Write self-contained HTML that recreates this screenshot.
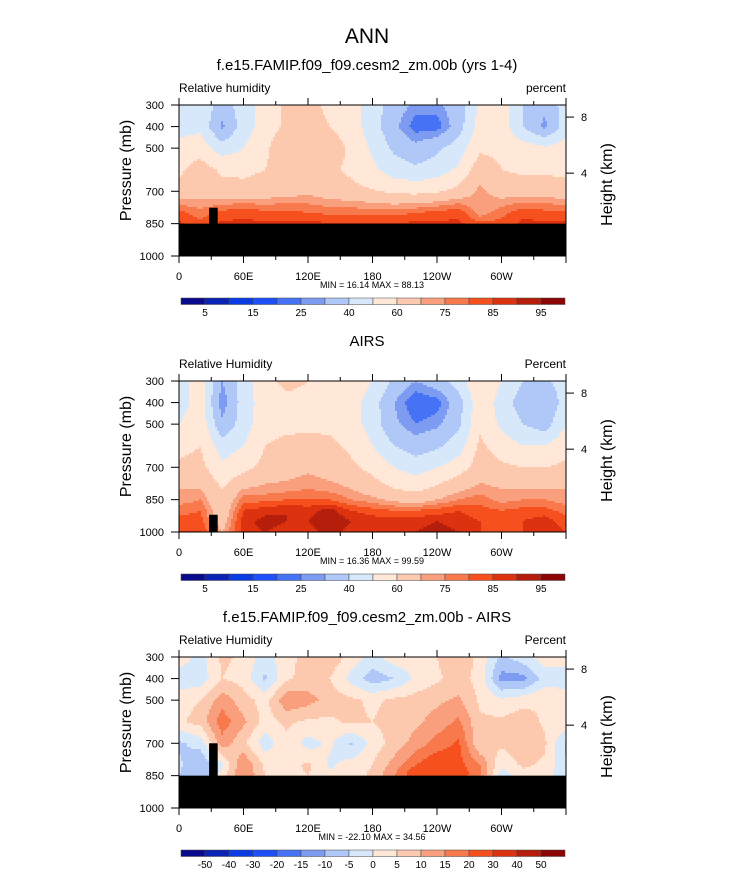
<!DOCTYPE html>
<html><head><meta charset="utf-8">
<style>
html,body{margin:0;padding:0;background:#fff;}
svg{display:block;font-family:"Liberation Sans",Arial,sans-serif;}
</style></head>
<body>
<svg id="chart" width="733" height="872" viewBox="0 0 733 872" xmlns="http://www.w3.org/2000/svg">
<text x="367" y="43" font-size="21" text-anchor="middle">ANN</text>
</svg>
<script>
// ---- data ----
const lons = [0,20,40,60,80,100,120,140,160,180,200,220,240,260,280,300,320,340,360];
const pressures = [300,400,500,600,700,800,850,900,950,1000];
const xTickLabels = ["0","60E","120E","180","120W","60W"];
const yTickLabels = [300,400,500,700,850,1000];
const heightTickLabels = [8,4];
const heightTickPressures = [356,616];
const rhLevels = [5,10,15,20,25,30,40,50,60,70,75,80,85,90,95];
const rhLabels = ["5","15","25","40","60","75","85","95"];
const diffLevels = [-50,-40,-30,-20,-15,-10,-5,0,5,10,15,20,30,40,50];
const diffLabels = ["-50","-40","-30","-20","-15","-10","-5","0","5","10","15","20","30","40","50"];
const palette = ["#0a0a8c","#0a23b4","#0a3ce6","#1e50fa","#4673f5","#7d9bf0","#afc8f8","#d7e8fb","#ffe8d7","#fcc9af","#fa9f7d","#f8794b","#f5501e","#dc320f","#b41e0a","#8c0505"];

const rhModel = [
 [45,48,35,45,55,62,64,57,55,45,35,28,28,35,52,55,40,32,45],
 [45,48,28,45,55,62,66,60,55,45,32,22,22,35,55,55,40,28,45],
 [55,55,45,50,58,68,64,66,58,48,38,33,38,45,58,58,55,52,55],
 [58,65,58,58,60,64,62,62,58,52,45,42,45,52,66,60,58,58,58],
 [63,66,64,63,64,66,68,65,63,61,58,57,59,63,72,66,66,66,63],
 [82,77,82,84,82,82,80,79,79,78,78,80,82,84,72,78,84,82,82],
 [86,82,86,86,86,86,86,86,86,86,86,86,86,86,82,82,86,86,86],
 [86,86,86,86,86,86,86,86,86,86,86,86,86,86,86,86,86,86,86],
 [86,86,86,86,86,86,86,86,86,86,86,86,86,86,86,86,86,86,86],
 [86,86,86,86,86,86,86,86,86,86,86,86,86,86,86,86,86,86,86]];
const rhObs = [
 [45,55,30,45,58,62,60,58,55,50,38,30,35,45,60,50,40,38,45],
 [45,55,25,45,55,58,58,58,55,45,30,20,22,35,58,45,35,30,45],
 [50,57,32,45,57,58,58,58,55,45,32,25,28,38,58,48,40,35,50],
 [57,60,45,50,60,62,63,62,58,50,40,35,38,45,62,55,50,50,57],
 [62,63,52,57,63,65,68,65,62,57,50,45,50,55,65,62,60,60,62],
 [70,70,60,70,72,73,75,73,70,65,60,58,62,68,72,70,70,70,70],
 [72,75,60,78,78,80,80,80,75,72,68,65,70,75,78,73,75,75,72],
 [78,80,62,85,88,90,88,92,85,82,80,80,82,85,82,80,82,82,78],
 [82,82,65,88,92,90,90,95,90,88,88,88,90,88,85,82,85,88,82],
 [85,85,70,88,90,88,88,92,88,88,88,90,92,90,85,82,85,88,85]];
const rhDiff = [
 [3,-2,6,4,-3,4,6,9,3,-2,3,3,5,10,3,-6,-2,3,3],
 [-3,-3,5,3,-6,4,7,5,-2,-8,-5,1,4,7,3,-12,-12,-3,-3],
 [3,5,13,7,3,14,12,8,6,4,6,7,9,11,4,1,3,5,3],
 [4,7,18,11,3,6,4,4,6,5,7,9,12,16,6,6,8,4,4],
 [-6,-3,13,6,-3,4,-2,1,-6,2,7,12,17,21,5,6,10,6,-6],
 [-4,-10,-1,15,4,3,6,-1,2,5,12,20,25,22,15,1,6,4,-4],
 [-5,-10,3,15,5,3,5,1,3,6,15,25,30,25,15,-3,3,3,-5],
 [0,0,0,0,0,0,0,0,0,0,0,0,0,0,0,0,0,0,0],
 [0,0,0,0,0,0,0,0,0,0,0,0,0,0,0,0,0,0,0],
 [0,0,0,0,0,0,0,0,0,0,0,0,0,0,0,0,0,0,0]];

const panels = [
 {name:"model", top:105, title:"f.e15.FAMIP.f09_f09.cesm2_zm.00b (yrs 1-4)", left:"Relative humidity", right:"percent", data:rhModel, levels:rhLevels, labels:rhLabels, labelEvery:2, minmax:"MIN =  16.14  MAX =  88.13", ground:850, pillarTop:776},
 {name:"obs", top:381, title:"AIRS", left:"Relative Humidity", right:"Percent", data:rhObs, levels:rhLevels, labels:rhLabels, labelEvery:2, minmax:"MIN =  16.36  MAX =  99.59", ground:1000, pillarTop:920},
 {name:"diff", top:657, title:"f.e15.FAMIP.f09_f09.cesm2_zm.00b - AIRS", left:"Relative Humidity", right:"Percent", data:rhDiff, levels:diffLevels, labels:diffLabels, labelEvery:1, minmax:"MIN = -22.10  MAX =  34.56", ground:850, pillarTop:700}
];

const NS="http://www.w3.org/2000/svg";
const svg=document.getElementById('chart');
const X0=179, X1=566, H=151;
function xs(lon){return X0+(lon/360)*(X1-X0);}
function mk(tag,attrs,parent){const e=document.createElementNS(NS,tag);for(const k in attrs)e.setAttribute(k,attrs[k]);(parent||svg).appendChild(e);return e;}
function colorIdx(v,levels){let i=0;while(i<levels.length&&v>=levels[i])i++;return i;}
function sample(data,lon,p){
  let i=0;while(i<lons.length-2&&lon>lons[i+1])i++;
  let j=0;while(j<pressures.length-2&&p>pressures[j+1])j++;
  const tx=(lon-lons[i])/(lons[i+1]-lons[i]), ty=(p-pressures[j])/(pressures[j+1]-pressures[j]);
  const a=data[j][i],b=data[j][i+1],c=data[j+1][i],d=data[j+1][i+1];
  return (a*(1-tx)+b*tx)*(1-ty)+(c*(1-tx)+d*tx)*ty;
}

panels.forEach((P)=>{
  const T=P.top;
  const ys=p=>T+(p-300)/700*H;
  const g=mk('g',{});
  
  
  const tt=mk('text',{x:367,y:T-35,'font-size':15,'text-anchor':'middle'},g);tt.textContent=P.title;
  
  
  const lt=mk('text',{x:179,y:T-13,'font-size':12},g);lt.textContent=P.left;
  
  
  const rt=mk('text',{x:566,y:T-13,'font-size':12,'text-anchor':'end'},g);rt.textContent=P.right;
  
  
  // field
  const field=mk('g',{'shape-rendering':'crispEdges'},g);
  
  
  const step=2;
  for(let py=T;py<T+H;py+=step){
    const hgt=Math.min(step+0.3,T+H-py);
    const p=300+((py+step/2-T)/H)*700;
    let run=null;
    for(let px=X0;px<X1;px+=step){
      const lon=(px+step/2-X0)/(X1-X0)*360;
      const ci=colorIdx(sample(P.data,lon,p),P.levels);
      const w=Math.min(step,X1-px);
      if(run&&run.c===ci){run.w+=w;}
      else{ if(run)mk('rect',{x:run.x,y:py,width:run.w+0.3,height:hgt,fill:palette[run.c]},field); run={x:px,w:w,c:ci}; }
    }
    if(run)mk('rect',{x:run.x,y:py,width:run.w,height:hgt,fill:palette[run.c]},field);
  }
  // terrain
  if(P.ground<1000){
    const gr=mk('rect',{x:X0,y:ys(P.ground),width:X1-X0,height:T+H-ys(P.ground),fill:'#000'},g);
    
    
  }
  const pl=mk('rect',{x:xs(28),y:ys(P.pillarTop),width:xs(36)-xs(28),height:ys(1000)-ys(P.pillarTop),fill:'#000'},g);
  
  
  // frame
  mk('rect',{x:X0,y:T,width:X1-X0,height:H,fill:'none',stroke:'#000','stroke-width':1},g);
  // x ticks
  for(let lon=0;lon<=360;lon+=30){
    const major=lon%60===0, x=xs(lon), L=major?7:4;
    mk('line',{x1:x,y1:T,x2:x,y2:T-L,stroke:'#000'},g);
    mk('line',{x1:x,y1:T+H,x2:x,y2:T+H+L,stroke:'#000'},g);
  }
  xTickLabels.forEach((s,k)=>{
    const t=mk('text',{x:xs(k*60),y:T+H+24,'font-size':11,'text-anchor':'middle'},g);t.textContent=s;
    
    
  });
  yTickLabels.forEach(p=>{
    mk('line',{x1:X0,y1:ys(p),x2:X0-8,y2:ys(p),stroke:'#000'},g);
    const t=mk('text',{x:164,y:ys(p)+4,'font-size':11,'text-anchor':'end'},g);t.textContent=p;
    
    
  });
  heightTickLabels.forEach((h,k)=>{
    const y=ys(heightTickPressures[k]);
    mk('line',{x1:X1,y1:y,x2:X1+8,y2:y,stroke:'#000'},g);
    const t=mk('text',{x:581,y:y+4,'font-size':11},g);t.textContent=h;
    
    
  });
  const ya=mk('text',{x:0,y:0,'font-size':16,'text-anchor':'middle',transform:`translate(131,${T+H/2-10}) rotate(-90)`},g);ya.textContent='Pressure (mb)';
  
  
  const ya2=mk('text',{x:0,y:0,'font-size':16,'text-anchor':'middle',transform:`translate(612,${T+H/2+4}) rotate(-90)`},g);ya2.textContent='Height (km)';
  
  
  const mm=mk('text',{x:372,y:T+H+32,'font-size':9,'text-anchor':'middle'},g);mm.textContent=P.minmax;
  
  
  // colorbar
  const cb=mk('g',{},g);
  
  
  const cx0=181,cx1=565,cy=T+H+42,bw=(cx1-cx0)/16;
  palette.forEach((c,k)=>{
    const r=mk('rect',{x:cx0+k*bw,y:cy,width:bw,height:6.5,fill:c,stroke:'#444','stroke-width':0.5},cb);
    
    
  });
  P.labels.forEach((s,k)=>{
    const b=1+k*P.labelEvery;
    const t=mk('text',{x:cx0+b*bw,y:cy+18,'font-size':10,'text-anchor':'middle'},cb);t.textContent=s;
    
    
  });
});
</script>
</body></html>
